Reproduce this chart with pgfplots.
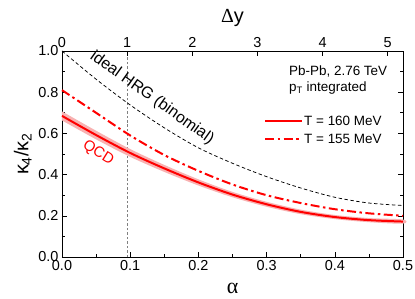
\documentclass[border=0pt]{standalone}
\usepackage{fontspec}
\setmainfont{Liberation Sans}
\newfontfamily\grk{Liberation Serif}
\usepackage{pgfplots}
\pgfplotsset{compat=1.18}
\definecolor{band}{RGB}{248,178,178}
\begin{document}
\begin{tikzpicture}
\pgfplotsset{
  every axis/.append style={
    scale only axis, width=341bp, height=206bp,
    tick align=inside,
    major tick length=5bp, minor tick length=3bp,
    tick style={black, line width=0.6pt},
    tick label style={font=\fontsize{14.5}{16}\selectfont},
    /pgf/number format/assume math mode=true,
  }
}
\begin{axis}[
  xmin=0, xmax=0.5, ymin=0, ymax=1,
  axis line style={line width=0.8pt},
  xtick={0,0.1,0.2,0.3,0.4,0.5}, minor x tick num=1,
  ytick={0,0.2,0.4,0.6,0.8,1.0}, minor y tick num=1,
  xtick pos=bottom, ytick pos=both, yticklabel pos=left,
  xticklabel style={/pgf/number format/.cd, fixed, fixed zerofill, precision=1},
  yticklabel style={/pgf/number format/.cd, fixed, fixed zerofill, precision=1},
  xlabel={\fontsize{22}{24}\selectfont\grk α},
  xlabel style={at={(axis description cs:0.5,-0.155)}, anchor=center, inner sep=0pt},
  ylabel={\fontsize{20}{22}\selectfont κ\textsubscript{4}/κ\textsubscript{2}},
  ylabel style={at={(axis description cs:-0.115,0.5)}, anchor=center, inner sep=0pt},
  clip=false,
]
% vertical reference line
\addplot[gray, line width=0.5pt, dash pattern=on 2.5pt off 2pt] coordinates {(0.0955,0) (0.0955,1)};
% QCD band
\addplot[fill=band, draw=none, smooth] coordinates {
 (0,0.707) (0.05,0.613) (0.1,0.524) (0.15,0.447) (0.2,0.377) (0.25,0.316)
 (0.3,0.268) (0.35,0.230) (0.4,0.204) (0.45,0.189) (0.5,0.182)
 (0.5,0.162) (0.45,0.169) (0.4,0.184) (0.35,0.208) (0.3,0.244) (0.25,0.290)
 (0.2,0.347) (0.15,0.413) (0.1,0.486) (0.05,0.571) (0,0.663)
} -- cycle;
% ideal HRG binomial
\addplot[black, line width=0.75pt, dash pattern=on 3.5pt off 2.5pt, smooth] coordinates {
 (0,1.0) (0.05,0.863) (0.1,0.738) (0.15,0.627) (0.2,0.53) (0.25,0.455)
 (0.3,0.39) (0.35,0.335) (0.4,0.29) (0.45,0.262) (0.5,0.25)
};
% T = 155 MeV
\addplot[red, line width=2pt, dash pattern=on 9pt off 3.5pt on 2.5pt off 3.5pt, smooth] coordinates {
 (0,0.81) (0.05,0.70) (0.1,0.59) (0.15,0.495) (0.2,0.418) (0.25,0.352)
 (0.3,0.30) (0.35,0.262) (0.4,0.232) (0.45,0.212) (0.5,0.20)
};
% T = 160 MeV
\addplot[red, line width=2pt, smooth] coordinates {
 (0,0.685) (0.05,0.592) (0.1,0.505) (0.15,0.43) (0.2,0.362) (0.25,0.303)
 (0.3,0.256) (0.35,0.219) (0.4,0.194) (0.45,0.179) (0.5,0.172)
};
\node[rotate=-35.5, font=\fontsize{16}{18}\selectfont] at (axis cs:0.132,0.772) {ideal HRG (binomial)};
\node[rotate=-32, text=red, font=\fontsize{15}{17}\selectfont] at (axis cs:0.053,0.505) {QCD};
\node[anchor=west, font=\fontsize{13.5}{15}\selectfont] at (axis cs:0.328,0.899) {Pb-Pb, 2.76 TeV};
\node[anchor=west, font=\fontsize{13.5}{15}\selectfont] at (axis cs:0.328,0.822) {p\textsubscript{T} integrated};
% legend
\draw[red, line width=2pt] (axis cs:0.298,0.662) -- (axis cs:0.352,0.662);
\node[anchor=west, font=\fontsize{13.5}{15}\selectfont] at (axis cs:0.350,0.662) {T = 160 MeV};
\draw[red, line width=2pt, dash pattern=on 9pt off 3.5pt on 2.5pt off 3.5pt] (axis cs:0.298,0.572) -- (axis cs:0.352,0.572);
\node[anchor=west, font=\fontsize{13.5}{15}\selectfont] at (axis cs:0.350,0.572) {T = 155 MeV};
\end{axis}
\begin{axis}[
  xmin=0, xmax=5.234, ymin=0, ymax=1,
  axis x line*=top, axis y line=none,
  xtick={0,1,2,3,4,5}, minor x tick num=0,
  xlabel={\fontsize{20}{22}\selectfont {\grk Δ}y},
  xlabel style={at={(axis description cs:0.5,1.16)}, anchor=center, inner sep=0pt},
  axis line style={line width=0.8pt, -},
]
\end{axis}
\pgfresetboundingbox
\useasboundingbox (-62bp,-42bp) rectangle (353bp,257bp);
\end{tikzpicture}
\end{document}
